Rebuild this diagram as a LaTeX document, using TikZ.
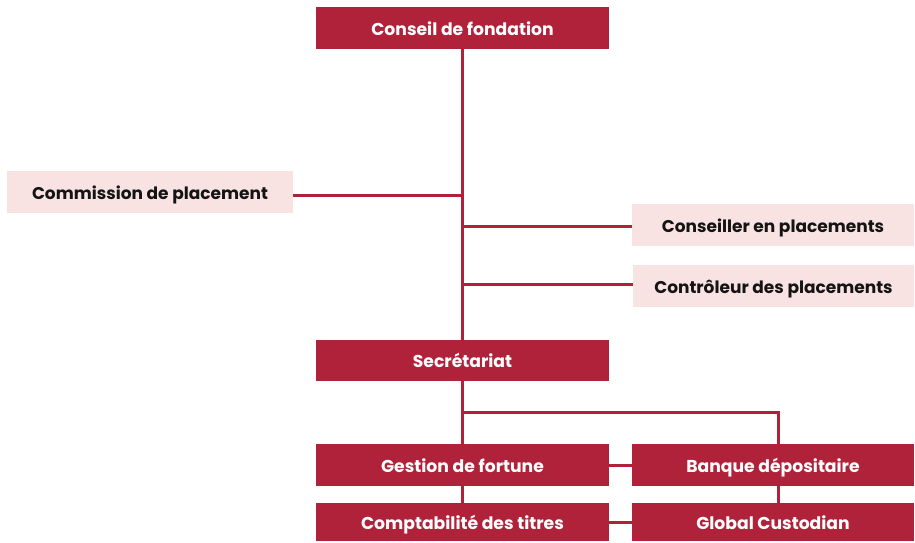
\documentclass[tikz,border=0pt]{standalone}
\usepackage{fontspec}
\setmainfont{Poppins}
\definecolor{brand}{HTML}{B0223A}
\definecolor{blush}{HTML}{F8E2E2}
\begin{document}
\begin{tikzpicture}[x=1pt,y=-1pt,
  lbl/.style={font=\bfseries\fontsize{17.2}{20}\selectfont, inner sep=0pt, text height=14pt, text depth=0pt},
  redbox/.style={lbl, rectangle, fill=brand, text=white, minimum width=293pt, minimum height=42pt},
  pinkbox/.style={lbl, rectangle, fill=blush, text=black!92, minimum height=42pt, font=\bfseries\fontsize{17}{20}\selectfont},
  link/.style={draw=brand, line width=3pt}]
\useasboundingbox (0,0) rectangle (915,542);
\node[redbox] (cf) at (462.5,28) {Conseil de fondation};
\node[pinkbox, minimum width=286pt, text height=15.5pt] (cp) at (150,192) {Commission de placement};
\node[pinkbox, minimum width=282pt] (ce) at (773,225) {Conseiller en placements};
\node[pinkbox, minimum width=281pt] (cd) at (773.5,286) {Contrôleur des placements};
\node[redbox, minimum height=41pt] (sec) at (462.5,360.5) {Secrétariat};
\node[redbox] (gf) at (462.5,465) {Gestion de fortune};
\node[redbox, minimum width=282pt] (bd) at (773,465) {Banque dépositaire};
\node[redbox, minimum height=38pt] (ct) at (462.5,522) {Comptabilité des titres};
\node[redbox, minimum width=282pt, minimum height=38pt] (gc) at (773,522) {Global Custodian};
\coordinate (j) at (462.5,412);
\coordinate (jr) at (778,412);
\coordinate (cpe) at ([yshift=-3pt]cp.east);
\coordinate (cew) at ([yshift=-1pt]ce.west);
\coordinate (cdw) at ([yshift=2pt]cd.west);
\path[link] (cf.south) -- (sec.north);
\path[link] (cpe) -- (cpe -| cf.south);
\path[link] (cew) -- (cew -| cf.south);
\path[link] (cdw) -- (cdw -| cf.south);
\path[link] (sec.south) -- (gf.north);
\path[link] (j) -- (jr) -- (jr |- bd.north);
\path[link] (gf.south) -- (ct.north);
\path[link] (bd.south -| jr) -- (gc.north -| jr);
\path[link] (gf.east) -- (bd.west);
\path[link] (ct.east) -- (gc.west);
\end{tikzpicture}
\end{document}
